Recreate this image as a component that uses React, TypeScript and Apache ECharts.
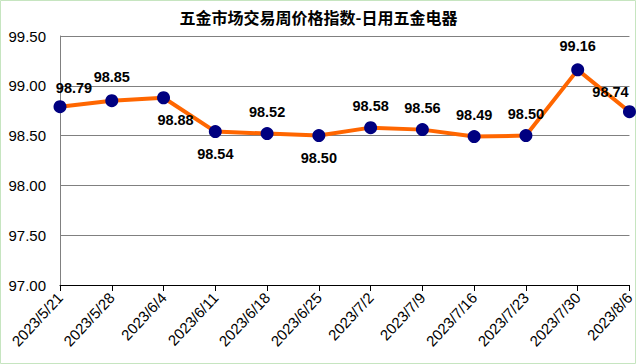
import React, { useEffect, useRef } from "react";
import * as echarts from "echarts";

const categories = ["2023/5/21", "2023/5/28", "2023/6/4", "2023/6/11", "2023/6/18", "2023/6/25", "2023/7/2", "2023/7/9", "2023/7/16", "2023/7/23", "2023/7/30", "2023/8/6"];
const values = [98.79, 98.85, 98.88, 98.54, 98.52, 98.50, 98.58, 98.56, 98.49, 98.50, 99.16, 98.74];
const labelPos = ["top", "top", "bottom", "bottom", "top", "bottom", "top", "top", "top", "top", "top", "top"];
const labelShift = [[14, 3], [0, -2], [12, 0], [0, 0], [0, 0], [0, 0], [0, 0], [0, 0], [0, 0], [0, 0], [0, -2], [-19, 2]];

export default function App() {
  const ref = useRef<HTMLDivElement>(null);
  useEffect(() => {
    const chart = echarts.init(ref.current!, null, { renderer: "svg" });
    chart.setOption({
      animation: false,
      backgroundColor: "#ffffff",
      title: {
        text: "五金市场交易周价格指数-日用五金电器",
        left: "center",
        top: 4,
        textStyle: { fontFamily: "Noto Sans CJK SC", fontSize: 16, fontWeight: "bold", color: "#000" },
      },
      graphic: [
        { type: "rect", shape: { x: 0.5, y: 0.5, width: 635, height: 363 }, style: { fill: "none", stroke: "#c6e5c0", lineWidth: 1 } },
      ],
      grid: { left: 60, right: 7, top: 36, bottom: 79, containLabel: false },
      xAxis: {
        type: "category",
        data: categories,
        boundaryGap: false,
        axisLine: { lineStyle: { color: "#000", width: 1 } },
        axisTick: { alignWithLabel: true, length: 6, lineStyle: { color: "#000" } },
        axisLabel: { rotate: 47, fontFamily: "Liberation Sans", fontSize: 15, color: "#000", margin: 10, interval: 0 },
      },
      yAxis: {
        type: "value",
        min: 97,
        max: 99.5,
        interval: 0.5,
        axisLine: { show: true, lineStyle: { color: "#808080" } },
        axisTick: { show: false },
        splitLine: { lineStyle: { color: "#808080", width: 1 } },
        axisLabel: { formatter: (v: number) => v.toFixed(2), fontFamily: "Liberation Sans", fontSize: 15, color: "#000", margin: 14 },
      },
      series: [
        {
          type: "line",
          data: values.map((v, i) => ({
            value: v,
            label: { position: labelPos[i], offset: labelShift[i] },
          })),
          lineStyle: { color: "#ff6600", width: 4 },
          itemStyle: { color: "#000080" },
          symbol: "circle",
          symbolSize: 13,
          label: {
            show: true,
            formatter: (p: any) => Number(p.value).toFixed(2),
            fontFamily: "Liberation Sans",
            fontSize: 14.5,
            fontWeight: "bold",
            color: "#000",
            distance: 8,
          },
        },
      ],
    });
    return () => chart.dispose();
  }, []);
  return <div ref={ref} style={{ position: "fixed", left: 0, top: 0, width: 637, height: 364 }} />;
}
